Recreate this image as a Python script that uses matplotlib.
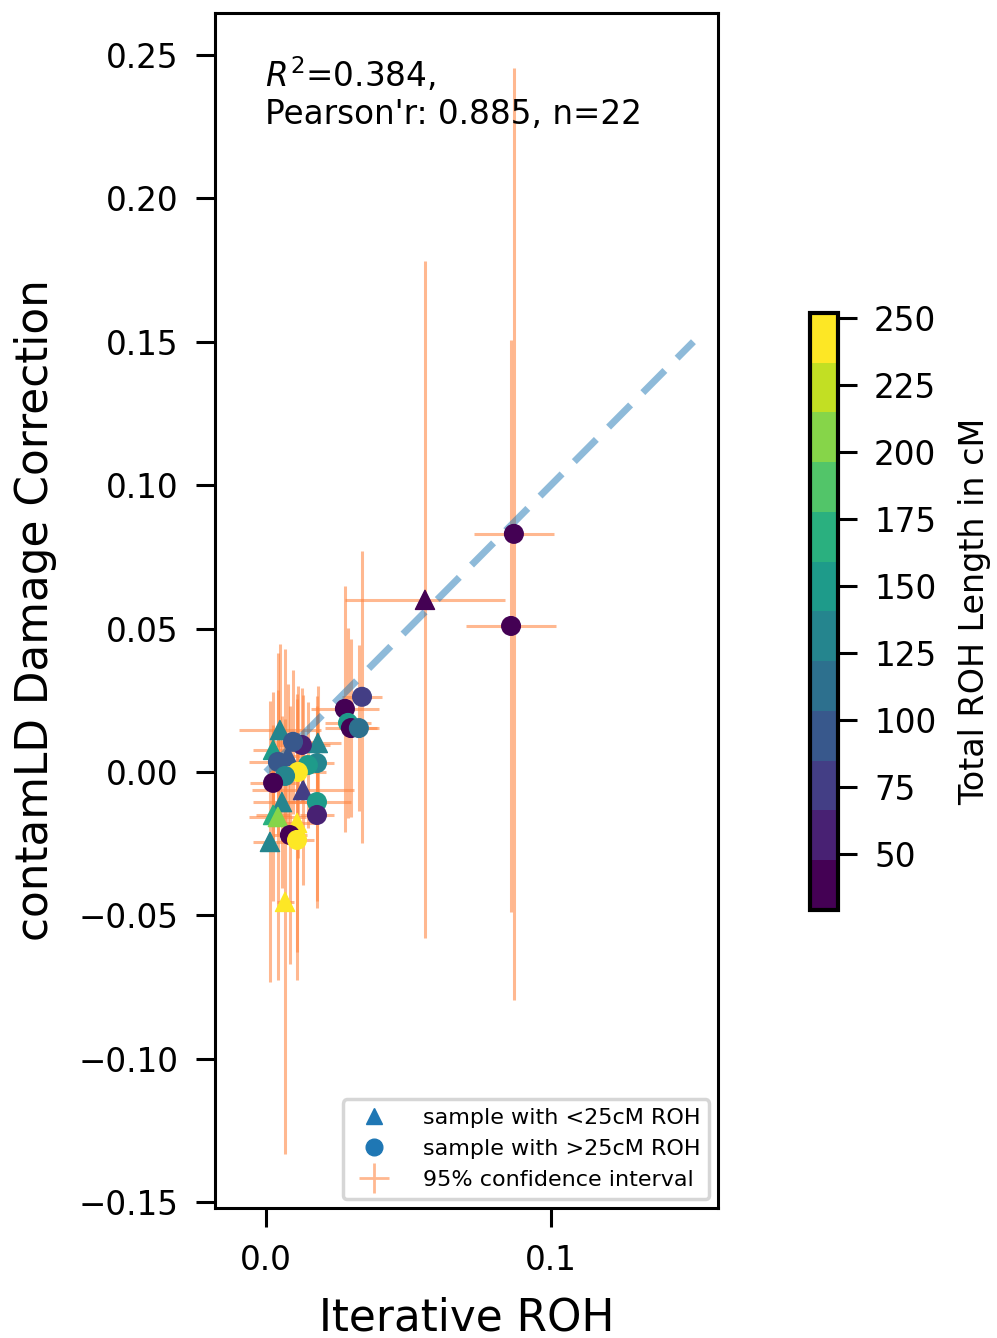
import numpy as np
import matplotlib
matplotlib.use("Agg")
from matplotlib import pyplot as plt
from matplotlib.lines import Line2D

# samples with < 25 cM ROH (triangles)
tri_x = np.array([0.0558, 0.0049, 0.0182, 0.0025, 0.0077, 0.0130, 0.0056, 0.0025, 0.0042, 0.0109, 0.0014, 0.0067])
tri_y = np.array([0.0600, 0.0146, 0.0101, 0.0077, 0.0056, -0.0063, -0.0105, -0.0150, -0.0157, -0.0178, -0.0244, -0.0453])
tri_xerr = np.array([0.028, 0.0144, 0.008, 0.007, 0.006, 0.018, 0.010, 0.006, 0.010, 0.006, 0.006, 0.003])
tri_yerr = np.array([0.118, 0.030, 0.020, 0.020, 0.025, 0.033, 0.030, 0.030, 0.057, 0.045, 0.049, 0.088])
tri_roh = np.array([38, 130, 128, 155, 95, 70, 128, 165, 205, 240, 125, 245])

# samples with > 25 cM ROH (circles)
cir_x = np.array([0.0870, 0.0860, 0.0337, 0.0277, 0.0288, 0.0298, 0.0326, 0.0126, 0.0095, 0.0042,
                  0.0179, 0.0147, 0.0112, 0.0067, 0.0025, 0.0179, 0.0179, 0.0084, 0.0109])
cir_y = np.array([0.0830, 0.0509, 0.0262, 0.0220, 0.0171, 0.0153, 0.0153, 0.0094, 0.0105, 0.0035,
                  0.0031, 0.0024, 0.0000, -0.0014, -0.0038, -0.0105, -0.0150, -0.0220, -0.0237])
cir_xerr = np.array([0.014, 0.0158, 0.007, 0.012, 0.008, 0.009, 0.007, 0.010, 0.008, 0.010,
                     0.006, 0.006, 0.010, 0.006, 0.008, 0.012, 0.006, 0.006, 0.006])
cir_yerr = np.array([0.1625, 0.0997, 0.051, 0.043, 0.033, 0.031, 0.029, 0.020, 0.025, 0.025,
                     0.020, 0.022, 0.030, 0.020, 0.020, 0.037, 0.030, 0.045, 0.049])
cir_roh = np.array([35, 35, 75, 38, 150, 38, 110, 60, 100, 85, 130, 145, 250, 125, 35, 155, 65, 35, 245])

yticks = [-0.15, -0.10, -0.05, 0.00, 0.05, 0.10, 0.15, 0.20, 0.25]
cbar_ticks = [50, 75, 100, 125, 150, 175, 200, 225, 250]

cmap = plt.get_cmap("viridis", 12)
norm = matplotlib.colors.Normalize(vmin=29, vmax=252)

fig = plt.figure(figsize=(9.97, 13.38), dpi=100)
ax = fig.add_axes([0.2156, 0.0972, 0.5045, 0.8931])

all_x = np.concatenate([tri_x, cir_x])
all_y = np.concatenate([tri_y, cir_y])
all_xerr = np.concatenate([tri_xerr, cir_xerr])
all_yerr = np.concatenate([tri_yerr, cir_yerr])

ax.errorbar(all_x, all_y, xerr=all_xerr, yerr=all_yerr, fmt="none",
            ecolor="#ff8540", alpha=0.58, elinewidth=2.2, zorder=1)

# identity line
ax.plot([0, 0.15], [0, 0.15], color="C0", alpha=0.5, lw=5, dashes=(4.5, 2.5), zorder=2)

ax.scatter(tri_x, tri_y, c=tri_roh, cmap=cmap, norm=norm, marker="^", s=190, zorder=3)
sc = ax.scatter(cir_x, cir_y, c=cir_roh, cmap=cmap, norm=norm, marker="o", s=180, zorder=3)

ax.set_xlim(-0.0179, 0.1586)
ax.set_ylim(-0.152, 0.2646)
ax.set_xticks([0.0, 0.1])
ax.set_yticks(yticks)
ax.set_xticklabels(["0.0", "0.1"])
ax.set_yticklabels(["\u22120.15", "\u22120.10", "\u22120.05", "0.00", "0.05", "0.10", "0.15", "0.20", "0.25"])
ax.tick_params(labelsize=23.5, length=14, width=2.2, pad=12)
for sp in ax.spines.values():
    sp.set_linewidth(2.2)

ax.set_xlabel("Iterative ROH", fontsize=31.5, labelpad=14)
ax.set_ylabel("contamLD Damage Correction", fontsize=31.5, labelpad=16)

ax.text(0.1, 0.965, "$R^2$=0.384,\nPearson'r: 0.885, n=22", transform=ax.transAxes,
        fontsize=23.5, va="top", ha="left", linespacing=1.15)

handles = [
    Line2D([], [], marker="^", color="C0", linestyle="none", markersize=12),
    Line2D([], [], marker="o", color="C0", linestyle="none", markersize=12),
    Line2D([], [], marker="+", color="#ff8540", alpha=0.58, linestyle="none", markersize=22, markeredgewidth=2),
]
leg = ax.legend(handles, ["sample with <25cM ROH", "sample with >25cM ROH", "95% confidence interval"],
                loc="lower right", fontsize=16, handletextpad=1.2, borderaxespad=0.4,
                labelspacing=0.5)
leg.get_frame().set_linewidth(2.5)

cax = fig.add_axes([0.8124, 0.3199, 0.0281, 0.4462])
cb = fig.colorbar(sc, cax=cax, ticks=cbar_ticks)
cb.outline.set_linewidth(3)
cb.ax.tick_params(labelsize=23.5, length=14, width=2.2, pad=12)
cb.set_label("Total ROH Length in cM", fontsize=24, labelpad=16)

fig.savefig("out.png", dpi=100)
